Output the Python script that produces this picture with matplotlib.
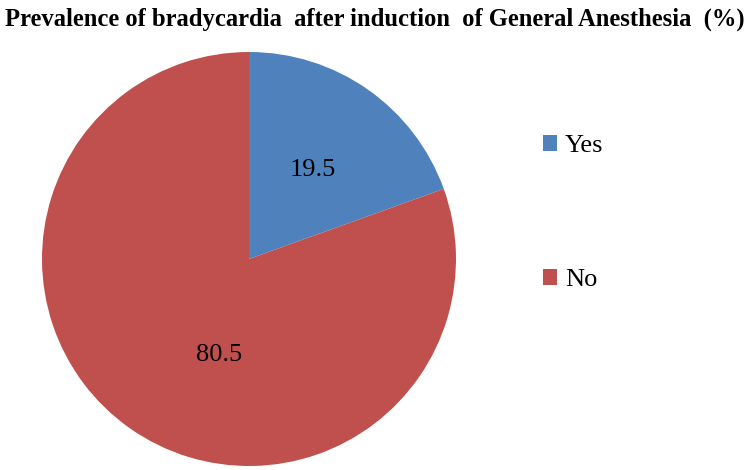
import matplotlib.pyplot as plt
from matplotlib.patches import Patch

# data
labels = ['Yes', 'No']
values = [19.5, 80.5]
colors = ['#4F81BD', '#C0504D']
title = 'Prevalence of bradycardia  after induction  of General Anesthesia  (%)'

plt.rcParams['font.family'] = ['Liberation Serif', 'DejaVu Serif']

W, H = 749, 470
fig = plt.figure(figsize=(W / 100, H / 100), dpi=100)

# pie axes placed in pixel terms: center (249, 259), radius ~207
cx, cy, r = 249, 259, 207
ax = fig.add_axes([(cx - r) / W, (H - cy - r) / H, 2 * r / W, 2 * r / H])
wedges, _ = ax.pie(values, colors=colors, startangle=90, counterclock=False,
                   wedgeprops=dict(linewidth=0))
ax.set_xlim(-1, 1)
ax.set_ylim(-1, 1)
ax.set_aspect('equal')

# value labels (Excel-like placement)
label_pos = [(0.31, 0.43), (-0.145, -0.465)]
for v, (x, y) in zip(values, label_pos):
    ax.text(x, y, f'{v:.1f}', ha='center', va='center', fontsize=19, color='black')

fig.text(0.5, 1 - 19 / H, title, ha='center', va='center', fontsize=17.7,
         fontweight='bold')

handles = [Patch(facecolor=c, edgecolor='none') for c in colors]
fig.legend(handles, labels, loc='upper left', bbox_to_anchor=(543 / W, 1 - 135 / H),
           frameon=False, fontsize=19, handlelength=0.53, handleheight=0.53,
           handletextpad=0.3, labelspacing=4.25, borderpad=0, borderaxespad=0)

fig.savefig('out.png', dpi=100)
